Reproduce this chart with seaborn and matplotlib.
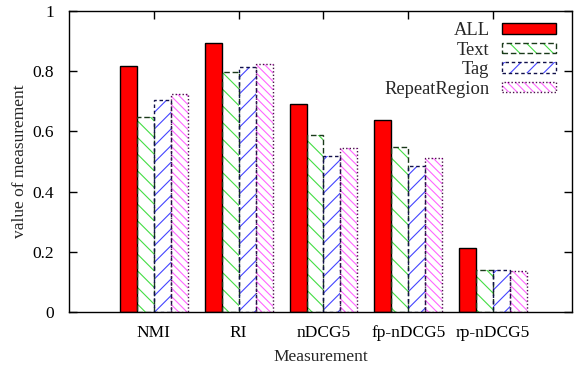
import pandas as pd
import numpy as np
import seaborn as sns
import matplotlib
matplotlib.use('Agg')
import matplotlib.pyplot as plt
import matplotlib.patches as mpatches
from matplotlib.legend_handler import HandlerTuple

sns.set_style('ticks')
plt.rcParams['font.family'] = ['Liberation Serif', 'DejaVu Serif']
plt.rcParams['font.size'] = 12.5
plt.rcParams['hatch.linewidth'] = 0.8

# data
measures = ['NMI', 'RI', 'nDCG5', 'fp-nDCG5', 'rp-nDCG5']
methods = ['ALL', 'Text', 'Tag', 'RepeatRegion']
all_vals = [0.818, 0.893, 0.691, 0.637, 0.212]
text_vals = [0.647, 0.796, 0.587, 0.547, 0.139]
tag_vals = [0.704, 0.814, 0.518, 0.484, 0.138]
repeat_vals = [0.725, 0.825, 0.546, 0.512, 0.135]

rows = []
for m, vals in zip(methods, [all_vals, text_vals, tag_vals, repeat_vals]):
    for meas, v in zip(measures, vals):
        rows.append({'measure': meas, 'method': m, 'value': v})
df = pd.DataFrame(rows)

# style per series: fill, hatch, hatch colour, edge colour, edge style
styles = {
    'ALL': dict(fill='#ff0000', hatch=None, hcol='#ff0000', ecol='black', ls='-'),
    'Text': dict(fill='white', hatch='\\\\', hcol='#44dd44', ecol='#1a3a1a', ls=(0, (4, 2))),
    'Tag': dict(fill='white', hatch='//', hcol='#4444ff', ecol='#10104a', ls=(0, (2.5, 2))),
    'RepeatRegion': dict(fill='white', hatch='\\\\\\\\', hcol='#ff66ff', ecol='#4a104a', ls=(0, (1, 1.5))),
}

fig = plt.figure(figsize=(5.75, 3.73), dpi=100)
ax = fig.add_axes([0.12, 0.1635, 0.8748, 0.807])

sns.barplot(data=df, x='measure', y='value', hue='method', order=measures,
            hue_order=methods, palette=['#ff0000', 'white', 'white', 'white'],
            saturation=1, width=0.8, legend=False, ax=ax)

for cont, m in zip(ax.containers, methods):
    st = styles[m]
    for bar in cont:
        bar.set_facecolor(st['fill'])
        bar.set_edgecolor(st['hcol'])
        bar.set_linewidth(0)
        if st['hatch']:
            bar.set_hatch(st['hatch'])
        outline = mpatches.Rectangle(bar.get_xy(), bar.get_width(), bar.get_height(),
                                     fill=False, edgecolor=st['ecol'], linewidth=1.0,
                                     linestyle=st['ls'], zorder=bar.get_zorder() + 0.1)
        ax.add_patch(outline)

ax.set_xlim(-1, 4.93)
ax.set_ylim(0, 1)
ax.set_yticks([0, 0.2, 0.4, 0.6, 0.8, 1])
ax.set_yticklabels(['0', '0.2', '0.4', '0.6', '0.8', '1'])
ax.tick_params(direction='in', length=6, width=1, top=True, right=True, colors='black')
ax.tick_params(axis='x', pad=9)
ax.tick_params(axis='y', pad=11)
for sp in ax.spines.values():
    sp.set_visible(True)
    sp.set_linewidth(1.0)
    sp.set_color('black')
ax.set_xlabel('Measurement', labelpad=6)
ax.set_ylabel('value of measurement', labelpad=3)

handles = []
for m in methods:
    st = styles[m]
    h1 = mpatches.Patch(facecolor=st['fill'], edgecolor=st['hcol'], linewidth=0, hatch=st['hatch'])
    h2 = mpatches.Patch(fill=False, edgecolor=st['ecol'], linewidth=1.0, linestyle=st['ls'])
    handles.append((h1, h2))
fig.legend(handles, methods, handler_map={tuple: HandlerTuple(ndivide=1, pad=0)},
           loc='upper right', bbox_to_anchor=(556 / 575, 1 - 22 / 373),
           frameon=False, markerfirst=False, borderpad=0, borderaxespad=0,
           fontsize=13.3, handlelength=2.9, handleheight=0.5, handletextpad=0.7,
           labelspacing=0.14)

fig.savefig('out.png', dpi=100)
